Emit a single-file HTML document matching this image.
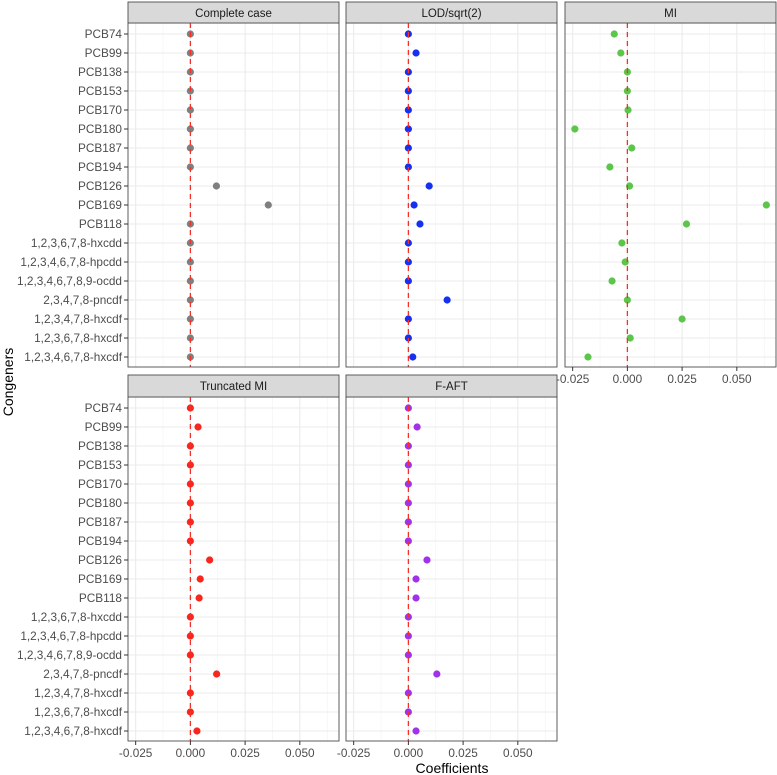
<!DOCTYPE html>
<html><head><meta charset="utf-8"><style>
html,body{margin:0;padding:0;background:#fff}
svg{display:block;font-family:"Liberation Sans",sans-serif}
</style></head><body>
<svg id="chart" width="777" height="775"></svg>
<script>
const categories=["PCB74","PCB99","PCB138","PCB153","PCB170","PCB180","PCB187","PCB194","PCB126","PCB169","PCB118","1,2,3,6,7,8-hxcdd","1,2,3,4,6,7,8-hpcdd","1,2,3,4,6,7,8,9-ocdd","2,3,4,7,8-pncdf","1,2,3,4,7,8-hxcdf","1,2,3,6,7,8-hxcdf","1,2,3,4,6,7,8-hxcdf"];
const completeCase=[0,0,0,0,0,0,0,0,0.0119,0.0356,0,0,0,0,0,0,0,0];
const lodSqrt2=[0,0.0035,0,0,0,0,0,0,0.0095,0.0026,0.0053,0,0,0,0.0177,0,0,0.002];
const miValues=[-0.006,-0.003,0,0,0.0003,-0.024,0.002,-0.008,0.001,0.0635,0.027,-0.0025,-0.001,-0.007,0,0.025,0.0013,-0.018];
const truncatedMI=[0,0.0035,0,0,0,0,0,0,0.0088,0.0045,0.004,0,0,0,0.012,0,0,0.003];
const fAft=[0,0.004,0,0,0,0,0,0,0.0085,0.0035,0.0035,0,0,0,0.013,0,0,0.0035];
const xTicks=[-0.025,0,0.025,0.05];
const xTickLabels=["-0.025","0.000","0.025","0.050"];
const panelTitles=["Complete case","LOD/sqrt(2)","MI","Truncated MI","F-AFT"];
const panelSeries=[completeCase,lodSqrt2,miValues,truncatedMI,fAft];
const panelColors=["#7f7f7f","#1530f0","#5bc64a","#f8261c","#a033ea"];

const NS="http://www.w3.org/2000/svg";
const svg=document.getElementById("chart");
function el(tag,attrs,parent){const e=document.createElementNS(NS,tag);for(const k in attrs)e.setAttribute(k,attrs[k]);(parent||svg).appendChild(e);return e;}
const X0=-0.0285,X1=0.0679;
const layout=[{x:128,y:23,strip:2},{x:346,y:23,strip:2},{x:565,y:23,strip:2},{x:128,y:397,strip:375},{x:346,y:397,strip:375}];
const PW=211,PH=344;
layout.forEach((L,p)=>{
  const g=el("g",{});
  
  
  const xs=v=>L.x+(v-X0)/(X1-X0)*PW;
  const ys=i=>L.y+11+i*19;
  el("rect",{x:L.x,y:L.y,width:PW,height:PH,fill:"#fff"},g);
  for(let v=-0.0375;v<0.07;v+=0.025){const px=xs(v);if(px>L.x&&px<L.x+PW)el("line",{x1:px,x2:px,y1:L.y,y2:L.y+PH,stroke:"#f2f2f2","stroke-width":0.6},g);}
  xTicks.forEach(v=>el("line",{x1:xs(v),x2:xs(v),y1:L.y,y2:L.y+PH,stroke:"#ebebeb","stroke-width":1.1},g));
  categories.forEach((c,i)=>el("line",{x1:L.x,x2:L.x+PW,y1:ys(i),y2:ys(i),stroke:"#ebebeb","stroke-width":1.1},g));
  panelSeries[p].forEach((v,i)=>{
    const c=el("circle",{cx:xs(v),cy:ys(i),r:3.6,fill:panelColors[p]},g);
    
    
  });
  const vl=el("line",{x1:xs(0),x2:xs(0),y1:L.y,y2:L.y+PH,stroke:"#f5302a","stroke-width":1.3,"stroke-dasharray":"5,4"},g);
  
  
  el("rect",{x:L.x,y:L.y,width:PW,height:PH,fill:"none",stroke:"#4d4d4d","stroke-width":0.9},g);
  el("rect",{x:L.x,y:L.strip,width:PW,height:L.y-L.strip,fill:"#d9d9d9",stroke:"#4d4d4d","stroke-width":0.9},g);
  const st=el("text",{x:L.x+PW/2,y:L.strip+15,"text-anchor":"middle","font-size":"11.5","fill":"#1a1a1a"},g);
  st.textContent=panelTitles[p];
  
  
  if(L.x===128){
    categories.forEach((c,i)=>{
      el("line",{x1:L.x-4,x2:L.x,y1:ys(i),y2:ys(i),stroke:"#333","stroke-width":1},g);
      const t=el("text",{x:L.x-6,y:ys(i)+4,"text-anchor":"end","font-size":"11.8",fill:"#4d4d4d"},g);
      t.textContent=c;
      
      
    });
  }
  if(p>=2){
    xTicks.forEach((v,k)=>{
      el("line",{x1:xs(v),x2:xs(v),y1:L.y+PH,y2:L.y+PH+4,stroke:"#333","stroke-width":1},g);
      const t=el("text",{x:xs(v),y:L.y+PH+16,"text-anchor":"middle","font-size":"11.8",fill:"#4d4d4d"},g);
      t.textContent=xTickLabels[k];
      
      
    });
  }
});
const xt=el("text",{x:452,y:773,"text-anchor":"middle","font-size":"14",fill:"#000"});
xt.textContent="Coefficients";


const yt=el("text",{x:0,y:0,"text-anchor":"middle","font-size":"14",fill:"#000",transform:"translate(13,382) rotate(-90)"});
yt.textContent="Congeners";


</script>
</body></html>
